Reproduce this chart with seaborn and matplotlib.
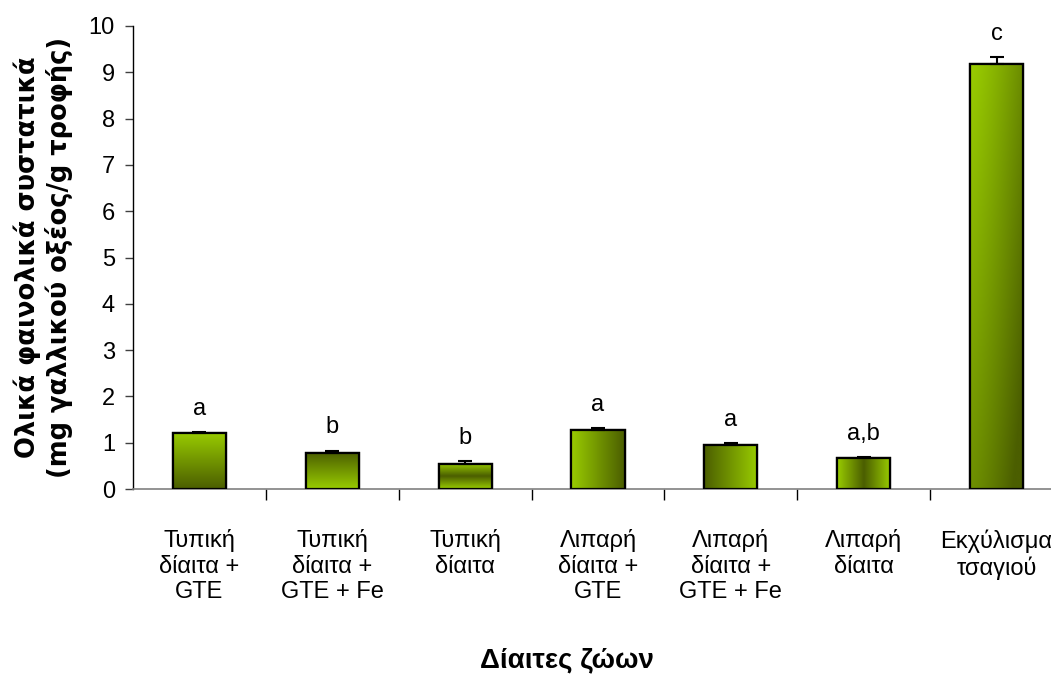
import numpy as np
import pandas as pd
import matplotlib
matplotlib.use("Agg")
import matplotlib.pyplot as plt
import seaborn as sns
from matplotlib.colors import LinearSegmentedColormap
from matplotlib import font_manager

categories = ["Τυπική\nδίαιτα +\nGTE", "Τυπική\nδίαιτα +\nGTE + Fe", "Τυπική\nδίαιτα",
              "Λιπαρή\nδίαιτα +\nGTE", "Λιπαρή\nδίαιτα +\nGTE + Fe", "Λιπαρή\nδίαιτα",
              "Εκχύλισμα\nτσαγιού"]
values = [1.22, 0.78, 0.55, 1.27, 0.95, 0.68, 9.19]
errors = [0.01, 0.05, 0.05, 0.05, 0.04, 0.01, 0.13]
letters = ["a", "b", "b", "a", "a", "a,b", "c"]
yticks = [0, 1, 2, 3, 4, 5, 6, 7, 8, 9, 10]

sns.set_theme(style="white")
names = {f.name for f in font_manager.fontManager.ttflist}
narrow = "Liberation Sans Narrow" if "Liberation Sans Narrow" in names else "Liberation Sans"
base_size = 20 if narrow == "Liberation Sans Narrow" else 17
plt.rcParams['font.family'] = [narrow, 'DejaVu Sans']
plt.rcParams['text.color'] = 'black'
plt.rcParams['axes.labelcolor'] = 'black'
plt.rcParams['xtick.color'] = 'black'
plt.rcParams['ytick.color'] = 'black'

fig = plt.figure(figsize=(10.51, 6.75), dpi=100)
ax = fig.add_axes([133/1051, 1 - 489/675, 930/1051, 463/675])

df = pd.DataFrame({"cat": categories, "val": values})
sns.barplot(data=df, x="cat", y="val", color="#99cc00", edgecolor="black",
            linewidth=1.6, width=0.4, ax=ax, zorder=2)

light = np.array([0x99, 0xcc, 0x00]) / 255
dark = np.array([0x4b, 0x5e, 0x00]) / 255
cmap = LinearSegmentedColormap.from_list("g", [light, dark])

def grad(kind, n=200):
    t = np.linspace(0, 1, n)
    if kind == "v_lt_top":
        g = np.tile(t[:, None], (1, 2))
    elif kind == "v_dk_top":
        g = np.tile(1 - t[:, None], (1, 2))
    elif kind == "v_mid":
        g = np.tile((1 - np.abs(2 * t - 1))[:, None], (1, 2))
    elif kind == "h_lt_left":
        g = np.tile(t[None, :], (2, 1))
    elif kind == "h_dk_left":
        g = np.tile(1 - t[None, :], (2, 1))
    elif kind == "h_mid":
        g = np.tile((1 - np.abs(2 * t - 1))[None, :], (2, 1))
    else:
        X, Y = np.meshgrid(t, t)
        g = np.clip(0.55 * Y + 0.6 * X ** 1.3, 0, 1)
    return g

kinds = ["v_lt_top", "v_dk_top", "v_mid", "h_lt_left", "h_dk_left", "h_mid", "diag"]
for p, k in zip(ax.patches, kinds):
    x0, y0 = p.get_x(), p.get_y()
    w, h = p.get_width(), p.get_height()
    im = ax.imshow(grad(k), cmap=cmap, vmin=0, vmax=1, aspect="auto",
                   extent=[x0, x0 + w, y0, y0 + h], origin="upper", zorder=2.5,
                   interpolation="bilinear")
    im.set_clip_path(p)
    ax.add_patch(plt.Rectangle((x0, y0), w, h, fill=False, edgecolor="black",
                               linewidth=1.6, zorder=3))

xs = np.arange(len(values))
ax.errorbar(xs, values, yerr=[np.zeros(len(values)), errors], fmt="none",
            ecolor="black", elinewidth=1.5, capsize=5, capthick=1.5, zorder=4)

for x, v, e, l in zip(xs, values, errors, letters):
    ax.text(x, v + e + 0.5, l, ha="center", va="center", fontsize=base_size, color="black")

ax.set_xlim(-0.5, len(values) - 0.5)
ax.set_ylim(0, 10)
ax.set_yticks(yticks)
ax.set_yticklabels([str(t) for t in yticks], fontsize=base_size)
ax.tick_params(axis="y", direction="out", length=6, width=1, color="#404040",
               left=True, pad=7)
ax.set_xticks(xs)
ax.set_xticklabels(categories, fontsize=base_size, linespacing=1.2)
ax.tick_params(axis="x", length=0, pad=29)
ax.set_xticks(np.arange(0.5, len(values) - 0.5, 1), minor=True)
ax.tick_params(axis="x", which="minor", direction="out", length=8, width=1,
               color="black", bottom=True)

for s in ["top", "right"]:
    ax.spines[s].set_visible(False)
ax.spines["left"].set_color("black")
ax.spines["left"].set_linewidth(1)
ax.spines["bottom"].set_color("#808080")
ax.spines["bottom"].set_linewidth(1.2)

ax.set_xlabel("Δίαιτες ζώων", fontsize=20, fontweight="bold")
ax.xaxis.set_label_coords((567 - 133) / 930, (489 - 647) / 463)
ax.set_ylabel("Ολικά φαινολικά συστατικά\n(mg γαλλικού οξέος/g τροφής)",
              fontsize=18.5, fontweight="bold", linespacing=1.2,
              family=["DejaVu Sans"])
ax.yaxis.set_label_coords((73 - 133) / 930, 0.5)

fig.savefig("out.png", dpi=100)
